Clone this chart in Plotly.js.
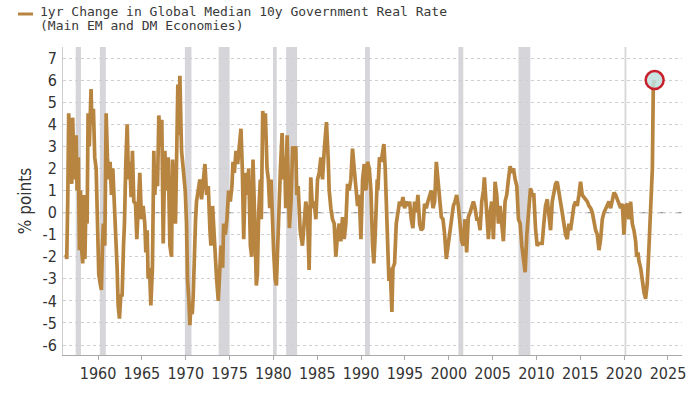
<!DOCTYPE html>
<html>
<head>
<meta charset="utf-8">
<script src="https://cdn.plot.ly/plotly-3.0.1.min.js"></script>
<style>html,body{margin:0;padding:0;background:#fff;}#chart{width:700px;height:394px;}</style>
</head>
<body>
<div id="chart"></div>
<script>
// ---- Data ----
const years = [
1956.35,1956.43,1956.54,1956.65,1956.8,1956.9,1957.0,1957.1,1957.3,1957.5,1957.6,1957.75,1957.87,1958.0,1958.1,1958.25,1958.37,1958.5,1958.63,1958.75,1958.86,1959.0,1959.2,1959.3,1959.47,1959.62,1959.78,1959.93,
1960.08,1960.23,1960.38,1960.5,1960.6,1960.77,1960.92,1961.07,1961.22,1961.37,1961.53,1961.68,1961.87,1962.06,1962.17,1962.29,1962.44,1962.6,1962.74,1962.9,1963.01,1963.16,1963.32,1963.47,1963.62,1963.77,1963.92,1964.08,1964.27,1964.42,1964.57,1964.76,1964.95,
1965.14,1965.33,1965.45,1965.6,1965.71,1965.86,1966.02,1966.2,1966.36,1966.47,1966.63,1966.78,1966.93,1967.12,1967.27,1967.43,1967.62,1967.81,1968.0,1968.19,1968.38,1968.49,1968.68,1968.83,1968.95,1969.1,1969.25,1969.33,1969.52,1969.63,1969.79,1969.94,
1970.09,1970.2,1970.36,1970.47,1970.59,1970.74,1970.85,1970.97,1971.12,1971.23,1971.42,1971.61,1971.8,1971.99,1972.19,1972.38,1972.57,1972.76,1972.87,1973.06,1973.21,1973.37,1973.52,1973.71,1973.86,
1974.02,1974.21,1974.32,1974.51,1974.7,1974.89,1975.08,1975.27,1975.39,1975.54,1975.73,1975.92,1976.11,1976.3,1976.45,1976.61,1976.8,1976.99,1977.18,1977.37,1977.52,1977.67,1977.86,1978.05,1978.17,1978.32,1978.51,1978.62,1978.78,1978.93,1979.08,1979.27,1979.42,1979.58,1979.73,1979.88,
1980.03,1980.19,1980.34,1980.49,1980.64,1980.8,1980.99,1981.14,1981.29,1981.4,1981.56,1981.71,1981.82,1982.01,1982.2,1982.39,1982.55,1982.66,1982.82,1983.05,1983.2,1983.31,1983.5,1983.69,1983.88,1984.07,1984.26,1984.45,1984.64,1984.84,
1985.03,1985.22,1985.41,1985.6,1985.79,1986.05,1986.24,1986.36,1986.55,1986.74,1986.93,1987.12,1987.31,1987.5,1987.69,1987.88,1988.07,1988.26,1988.45,1988.64,1988.83,1989.02,1989.21,1989.4,1989.6,1989.79,1989.98,
1990.17,1990.36,1990.55,1990.74,1990.93,1991.12,1991.31,1991.45,1991.61,1991.84,1991.91,1992.1,1992.29,1992.48,1992.6,1992.75,1992.86,1993.05,1993.17,1993.32,1993.51,1993.63,1993.82,1994.01,1994.2,1994.39,1994.58,1994.77,1994.96,
1995.15,1995.34,1995.53,1995.72,1995.91,1996.1,1996.29,1996.48,1996.67,1996.86,1997.05,1997.24,1997.43,1997.62,1997.81,1998.0,1998.2,1998.39,1998.58,1998.77,1998.96,1999.15,1999.34,1999.53,1999.72,1999.91,
2000.1,2000.33,2000.52,2000.71,2000.9,2001.09,2001.28,2001.47,2001.66,2001.85,2002.04,2002.23,2002.43,2002.62,2002.81,2003.0,2003.19,2003.38,2003.57,2003.76,2003.95,2004.06,2004.22,2004.41,2004.52,2004.71,2004.9,
2005.09,2005.28,2005.47,2005.66,2005.85,2006.04,2006.23,2006.42,2006.61,2006.8,2007.0,2007.19,2007.38,2007.57,2007.76,2007.95,2008.14,2008.33,2008.52,2008.71,2008.9,2009.09,2009.32,2009.51,2009.7,2009.89,
2010.08,2010.27,2010.46,2010.65,2010.84,2011.03,2011.23,2011.42,2011.61,2011.8,2011.99,2012.18,2012.37,2012.56,2012.75,2012.94,2013.13,2013.32,2013.51,2013.7,2013.89,2014.08,2014.27,2014.46,2014.65,2014.84,
2015.03,2015.22,2015.41,2015.6,2015.8,2015.99,2016.18,2016.37,2016.56,2016.75,2016.94,2017.13,2017.32,2017.51,2017.7,2018.08,2018.27,2018.46,2018.65,2018.84,2019.03,2019.22,2019.41,2019.6,2019.79,2019.98,
2020.17,2020.36,2020.55,2020.74,2020.93,2021.12,2021.31,2021.43,2021.58,2021.69,2021.88,2022.07,2022.26,2022.45,2022.64,2022.84,2022.95,2023.1,2023.22,2023.33,2023.48
];
const realRateChange = [
-1.9,-2.1,0.5,4.5,2.5,4.3,1.3,4.3,1.5,3.5,1.0,2.5,-1.7,1.0,-1.5,-2.3,0.8,-2.1,0.8,-0.5,4.5,3.0,5.6,4.0,4.7,2.5,2.0,-0.5,
-2.8,-3.2,-3.5,-1.5,-0.5,-1.5,4.5,2.5,1.5,2.3,0.8,2.0,0.5,-1.3,-2.5,-4.2,-4.8,-3.7,-3.8,-1.5,-0.5,2.2,4.0,1.5,2.3,0.7,2.8,0.5,0.4,-1.2,0.2,1.8,-0.3,
0.3,-0.5,-1.8,-0.8,-3.0,-2.5,-4.2,-2.5,2.8,0.8,2.0,1.2,4.4,3.0,4.2,-1.4,2.8,1.0,2.5,-1.5,-2.0,2.4,1.2,-0.5,2.2,5.8,3.5,6.2,2.8,2.3,1.5,1.0,
-0.5,-3.0,-4.0,-5.1,-4.2,-4.6,-3.8,-1.8,-0.3,0.5,1.0,1.5,0.6,1.3,2.2,0.8,1.2,-0.8,-1.5,0.3,-1.0,-2.0,-3.0,-4.0,-3.0,
-1.5,-2.5,-0.5,-1.0,-0.3,1.0,0.5,1.2,2.3,1.8,2.8,2.2,3.0,3.8,2.0,-1.2,1.8,0.8,2.0,-1.5,-2.0,2.4,-0.2,-3.3,-2.8,0.0,1.5,-0.3,4.6,4.0,4.5,2.0,1.5,0.2,1.5,-0.5,
-1.8,-3.0,-3.3,-1.5,0.5,2.0,3.6,1.5,2.5,0.2,3.5,0.7,-0.7,0.5,3.0,2.5,3.0,0.8,1.2,-0.8,-1.3,-1.5,-0.5,0.5,0.0,-2.6,1.6,0.2,0.5,-0.3,
1.5,1.8,2.5,1.5,2.8,4.1,2.5,1.0,0.2,-0.3,-0.5,-2.0,-1.0,-0.5,-1.3,-0.2,-1.2,-0.5,1.3,1.0,1.5,2.9,2.0,1.2,0.3,0.8,-1.2,
1.5,2.2,1.0,2.3,2.0,1.0,-1.5,-2.3,-1.0,1.5,1.0,2.5,2.3,2.9,3.1,2.0,0.5,-1.5,-3.1,-2.5,-4.5,-2.5,-2.3,-0.5,0.0,0.5,0.3,0.7,0.2,
0.5,0.3,0.5,-0.3,-0.7,0.5,0.0,0.8,-0.5,-0.8,-0.7,0.4,0.2,0.5,0.7,1.0,0.2,0.5,2.3,1.5,0.5,-0.2,-0.3,-1.0,-2.1,-1.5,
-0.8,-0.2,0.3,0.5,0.8,0.3,-0.5,-1.3,-1.5,-0.3,-1.8,-0.2,0.0,0.3,0.5,0.2,-0.3,-0.3,-0.8,0.5,1.0,1.6,0.5,-0.8,-1.2,0.0,0.5,
-1.2,1.4,0.8,-0.5,0.3,-0.8,-1.3,0.5,0.8,1.5,2.1,1.8,2.0,1.5,1.2,-0.3,-0.5,-1.5,-2.0,-2.7,-1.0,0.0,1.1,0.8,0.8,-0.7,
-1.5,-1.4,-1.4,-1.4,-0.5,0.3,0.6,-0.2,-0.8,0.5,1.0,1.3,1.4,1.0,0.5,0.0,-0.5,-1.0,-1.2,-0.5,-0.8,-0.3,0.3,0.5,0.3,0.8,
1.4,0.8,0.7,0.6,0.5,0.3,0.2,0.0,-0.5,-0.8,-1.0,-1.7,-1.2,-0.3,0.0,0.3,0.5,0.2,0.5,0.9,0.8,0.6,0.5,0.2,0.4,-1.0,
0.3,0.4,-0.3,0.5,-0.5,-0.8,-1.3,-2.0,-1.8,-2.2,-2.5,-3.2,-3.6,-3.9,-3.2,-1.5,-0.5,0.0,2.0,5.8,6.0
];
// US recession periods (shaded bars)
const recessionStart = [1957.45,1960.2,1969.9,1973.75,1979.95,1981.45,1990.45,2001.1,2007.95,2020.05];
const recessionEnd   = [1958.05,1960.88,1970.65,1975.0,1980.38,1982.7,1991.0,2001.65,2009.3,2020.25];
const xTicks = [1960,1965,1970,1975,1980,1985,1990,1995,2000,2005,2010,2015,2020,2025];
const yTicks = [-6,-5,-4,-3,-2,-1,0,1,2,3,4,5,6,7];
const titleLine1 = "1yr Change in Global Median 10y Government Real Rate";
const titleLine2 = "(Main EM and DM Economies)";

// ---- Chart ----
const lineColor = '#b88540';
const L = 63, R = 18, T = 47, B = 39, W = 700, H = 394;
const pw = W - L - R, ph = H - T - B;
const px = p => (p - L) / pw;
const py = p => (H - B - p) / ph;

const shapes = recessionStart.map((s, i) => ({
  type: 'rect', xref: 'x', yref: 'paper', x0: s, x1: recessionEnd[i], y0: 0, y1: 1,
  fillcolor: '#d6d6da', line: {width: 0}, layer: 'below'
}));
shapes.push({type: 'line', xref: 'paper', yref: 'y', x0: 0, x1: 1, y0: 0, y1: 0,
  line: {color: '#9a9a9a', width: 1.2, dash: 'dash'}, layer: 'below'});
shapes.push({type: 'line', xref: 'paper', yref: 'paper', x0: px(18), x1: px(33), y0: py(14), y1: py(14),
  line: {color: lineColor, width: 3}});

const n = years.length;
const traces = [
  {x: years, y: realRateChange, type: 'scatter', mode: 'lines',
   line: {color: lineColor, width: 3.7}, hoverinfo: 'skip'},
  {x: [years[n-1]], y: [realRateChange[n-1]], type: 'scatter', mode: 'markers',
   marker: {size: 18, color: 'rgba(190,225,222,0.85)', line: {color: '#c8202c', width: 2.5}}, hoverinfo: 'skip'}
];

const tickFont = {family: 'DejaVu Sans Condensed, Noto Sans, sans-serif', size: 16, color: '#333'};
const layout = {
  width: W, height: H, margin: {l: L, r: R, t: T, b: B},
  paper_bgcolor: '#fff', plot_bgcolor: '#fff', showlegend: false,
  xaxis: {range: [1956.0, 2026.6], tickvals: xTicks, ticktext: xTicks.map(String),
    showgrid: false, zeroline: false, showline: true, linecolor: '#aaa', linewidth: 1,
    ticks: 'outside', ticklen: 4, tickcolor: '#aaa', tickfont: tickFont},
  yaxis: {range: [-6.45, 7.5], tickvals: yTicks, ticktext: yTicks.map(String),
    showgrid: true, gridcolor: '#cfcfcf', griddash: 'dot', gridwidth: 1,
    zeroline: false, showline: true, linecolor: '#ccc', linewidth: 1, ticks: '',
    tickfont: tickFont, ticklabelstandoff: 2,
    title: {text: '% points', font: {family: 'DejaVu Sans Condensed, Noto Sans, sans-serif', size: 17, color: '#333'}, standoff: 6}},
  shapes: shapes,
  annotations: [
    {xref: 'paper', yref: 'paper', x: px(38), y: py(11), xanchor: 'left', yanchor: 'middle',
     text: titleLine1, showarrow: false, font: {family: 'DejaVu Sans Mono, monospace', size: 13, color: '#3a3a3a'}},
    {xref: 'paper', yref: 'paper', x: px(38), y: py(25), xanchor: 'left', yanchor: 'middle',
     text: titleLine2, showarrow: false, font: {family: 'DejaVu Sans Mono, monospace', size: 13, color: '#3a3a3a'}}
  ]
};
Plotly.newPlot('chart', traces, layout, {displayModeBar: false, staticPlot: true});
</script>
</body>
</html>
